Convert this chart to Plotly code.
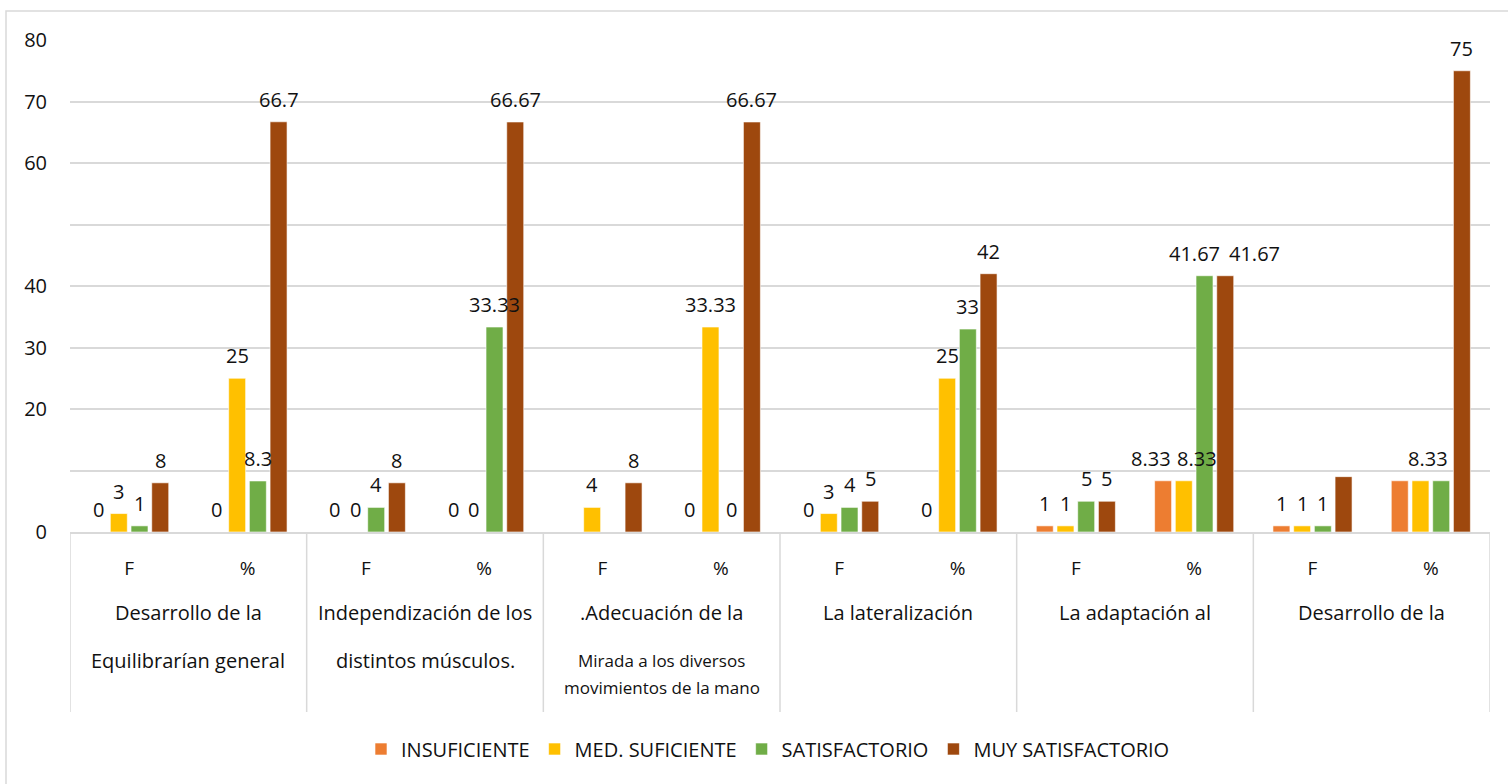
import plotly.graph_objects as go

# ---- data ----
cat_ids = ["g1F", "g1P", "g2F", "g2P", "g3F", "g3P", "g4F", "g4P", "g5F", "g5P", "g6F", "g6P"]
cat_ticks = ["F", "%", "F", "%", "F", "%", "F", "%", "F", "%", "F", "%"]
group_line1 = ["Desarrollo de la", "Independización de los", ".Adecuación de la",
               "La lateralización", "La adaptación al", "Desarrollo de la"]
group_line2 = ["Equilibrarían general", "distintos músculos.", "", "", "", ""]
group3_small = ["Mirada a los diversos", "movimientos de la mano"]

series_names = ["INSUFICIENTE", "MED. SUFICIENTE", "SATISFACTORIO", "MUY SATISFACTORIO"]
insuficiente = [0, 0, 0, 0, None, 0, 0, 0, 1, 8.33, 1, 8.33]
med_suficiente = [3, 25, 0, 0, 4, 33.33, 3, 25, 1, 8.33, 1, 8.33]
satisfactorio = [1, 8.3, 4, 33.33, None, 0, 4, 33, 5, 41.67, 1, 8.33]
muy_satisfactorio = [8, 66.7, 8, 66.67, 8, 66.67, 5, 42, 5, 41.67, 9, 75]

insuficiente_txt = ["0", "0", "0", "0", "", "0", "0", "0", "1", "8.33", "1", ""]
med_suficiente_txt = ["3", "25", "0", "0", "4", "33.33", "3", "25", "1", "8.33", "1", "8.33"]
satisfactorio_txt = ["1", "8.3", "4", "33.33", "", "0", "4", "33", "5", "41.67", "1", ""]
muy_satisfactorio_txt = ["8", "66.7", "8", "66.67", "8", "66.67", "5", "42", "5", "41.67", "", "75"]

colors = ["#ED7D31", "#FFC000", "#70AD47", "#9E480E"]

y_tickvals = [0, 10, 20, 30, 40, 50, 60, 70, 80]
y_ticktext = ["0", "", "20", "30", "40", "", "60", "70", "80"]

# ---- styling ----
FONT = "Open Sans, Noto Sans, sans-serif"
TXT = "#111111"
BARGAP = 0.3
BARGROUPGAP = 0.18
# label nudges (pixels) for crowded data labels: (series index, category index) -> xshift
label_xshift = {(0, 9): -12, (1, 9): 13, (2, 9): -10, (3, 9): 29, (1, 11): 8}

fig = go.Figure()
all_vals = [insuficiente, med_suficiente, satisfactorio, muy_satisfactorio]
all_txt = [insuficiente_txt, med_suficiente_txt, satisfactorio_txt, muy_satisfactorio_txt]
for name, vals, col in zip(series_names, all_vals, colors):
    fig.add_trace(go.Bar(
        x=cat_ids, y=vals, name=name,
        marker=dict(color=col, line=dict(color="rgba(255,255,255,0.6)", width=1)),
    ))

# plot area geometry (pixels)
L, R, T, B = 70, 18, 40, 252
W = 1508 - L - R
H = 784 - T - B

def py(p):
    return (532 - p) / H

def px(p):
    return (p - L) / W

annotations = []
# data labels, placed over each bar through the axis scales
slot = (1 - BARGAP) / 4
for k, (vals, txts) in enumerate(zip(all_vals, all_txt)):
    for i, (v, t) in enumerate(zip(vals, txts)):
        if not t:
            continue
        annotations.append(dict(
            x=i + (k - 1.5) * slot, xref="x", y=v if v is not None else 0, yref="y",
            yanchor="bottom", xanchor="center", yshift=7, xshift=label_xshift.get((k, i), 0),
            text=t, showarrow=False, font=dict(family=FONT, size=20, color=TXT)))

for i, (l1, l2) in enumerate(zip(group_line1, group_line2)):
    xc = 2 * i + 0.5
    annotations.append(dict(x=xc, xref="x", y=py(612), yref="paper", yanchor="middle",
                            text=l1, showarrow=False, font=dict(family=FONT, size=20, color=TXT)))
    if l2:
        annotations.append(dict(x=xc, xref="x", y=py(660), yref="paper", yanchor="middle",
                                text=l2, showarrow=False, font=dict(family=FONT, size=20, color=TXT)))
annotations.append(dict(x=4.5, xref="x", y=py(660), yref="paper", yanchor="middle",
                        text=group3_small[0], showarrow=False, font=dict(family=FONT, size=17, color=TXT)))
annotations.append(dict(x=4.5, xref="x", y=py(687), yref="paper", yanchor="middle",
                        text=group3_small[1], showarrow=False, font=dict(family=FONT, size=17, color=TXT)))

shapes = []
for k in range(7):
    xd = 2 * k - 0.5
    shapes.append(dict(type="line", xref="x", yref="paper", x0=xd, x1=xd, y0=0, y1=py(712),
                       line=dict(color="#d9d9d9", width=1.5)))
shapes.append(dict(type="rect", xref="paper", yref="paper", x0=px(6), x1=px(1530), y0=py(11), y1=py(820),
                   line=dict(color="#d9d9d9", width=1.5), layer="below"))

fig.update_layout(
    width=1508, height=784,
    margin=dict(l=L, r=R, t=T, b=B, autoexpand=False),
    paper_bgcolor="white", plot_bgcolor="white",
    barmode="group", bargap=BARGAP, bargroupgap=BARGROUPGAP,
    font=dict(family=FONT, size=17, color=TXT),
    showlegend=True,
    legend=dict(orientation="h", x=px(768), xanchor="center", y=py(749), yanchor="middle",
                font=dict(family=FONT, size=20, color=TXT), itemwidth=30,
                traceorder="normal"),
    xaxis=dict(type="category", tickmode="array", tickvals=cat_ids, ticktext=cat_ticks,
               showline=True, linecolor="#d9d9d9", linewidth=1.5, showgrid=False,
               ticks="", ticklabelstandoff=18, tickfont=dict(family=FONT, size=19, color=TXT),
               range=[-0.5, 11.5]),
    yaxis=dict(range=[0, 80], tickmode="array", tickvals=y_tickvals, ticktext=y_ticktext,
               showgrid=True, gridcolor="#d9d9d9", gridwidth=1.5, zeroline=False, showline=False,
               ticks="", ticklabelstandoff=22, tickfont=dict(family=FONT, size=20, color=TXT)),
    annotations=annotations, shapes=shapes,
)

fig.write_html("out.html", config={"displayModeBar": False},
               post_script="document.body.style.margin='0px';document.body.style.overflow='hidden';")
